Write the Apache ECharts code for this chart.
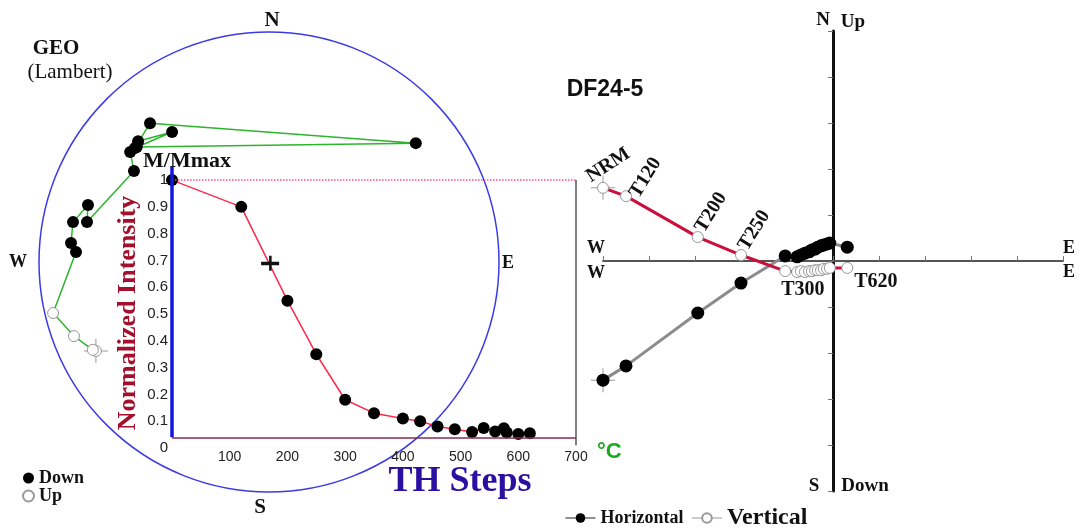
<!DOCTYPE html>
<html>
<head>
<meta charset="utf-8">
<script src="https://cdn.jsdelivr.net/npm/echarts@6/dist/echarts.min.js"></script>
<style>
  html, body { margin: 0; padding: 0; background: #fff; }
  #c { width: 1082px; height: 531px; }
</style>
</head>
<body>
<div id="c"></div>
<script>
// Thermal demagnetisation of specimen DF24-5

// Demagnetisation steps (°C) and normalised intensity M/Mmax
const steps = [0, 120, 200, 250, 300, 350, 400, 430, 460, 490, 520, 540, 560, 575, 580, 600, 620];
const intensity = [1.0, 0.90, 0.55, 0.35, 0.18, 0.13, 0.11, 0.10, 0.08, 0.07, 0.06, 0.075, 0.062, 0.074, 0.058, 0.052, 0.055];
const crossMark = [170, 0.69];
const tempTicks = [100, 200, 300, 400, 500, 600, 700];

// Orthogonal vector components per step (East, North, Up)
const compE = [-5.00, -4.50, -2.94, -2.00, -1.04, -0.78, -0.70, -0.61, -0.52, -0.46, -0.39, -0.33, -0.26, -0.20, -0.13, -0.07, 0.31];
const compN = [-2.59, -2.28, -1.13, -0.48, 0.11, 0.09, 0.13, 0.17, 0.20, 0.24, 0.26, 0.30, 0.33, 0.35, 0.37, 0.39, 0.30];
const compUp = [1.59, 1.41, 0.52, 0.13, -0.22, -0.24, -0.22, -0.24, -0.22, -0.22, -0.20, -0.20, -0.20, -0.17, -0.17, -0.15, -0.15];
const stepLabels = ['NRM', 'T120', 'T200', 'T250', 'T300', '', '', '', '', '', '', '', '', '', '', '', 'T620'];

// Directions on the equal-area net (declination, inclination), in path order
const stereoDec = [242.8, 243.5, 249.2, 256.7, 273.0, 275.5, 281.5, 287.5, 282.4, 304.0, 308.4, 312.7, 323.3, 310.4, 319.4, 51.0, 311.0];
const stereoInc = [-16.5, -15.5, -10.2, -4.0, 17.1, 14.6, 14.1, 18.6, 20.1, 29.9, 24.0, 23.6, 30.2, 24.5, 21.6, 19.0, 24.8];

const SERIF = 'Liberation Serif';
const SANS = 'Liberation Sans';

// Lambert equal-area radius (1 at the primitive circle)
const lambertR = inc => Math.SQRT2 * Math.sin((90 - Math.abs(inc)) * Math.PI / 360);
const netPts = stereoDec.map((d, i) => [lambertR(stereoInc[i]), d]);
const netDown = netPts.filter((p, i) => stereoInc[i] >= 0);
const netUp = netPts.filter((p, i) => stereoInc[i] < 0);

const crossPath = 'path://M0,11.5h24v1h-24z M11.5,0h1v24h-1z';

const labelPlace = {
  NRM:  { position: 'top', align: 'left', verticalAlign: 'bottom', rotate: 33, offset: [-13, 3] },
  T120: { position: 'right', align: 'left', verticalAlign: 'middle', rotate: 58, distance: 2 },
  T200: { position: 'top', align: 'left', verticalAlign: 'middle', rotate: 58, offset: [-3, 4] },
  T250: { position: 'top', align: 'left', verticalAlign: 'middle', rotate: 58, offset: [-3, 4] },
  T300: { position: 'bottom', align: 'left', verticalAlign: 'top', offset: [-4, -2] },
  T620: { position: 'bottom', align: 'left', verticalAlign: 'top', offset: [7, -7] }
};
const labelFont = { fontFamily: SERIF, fontWeight: 'bold', fontSize: 20, color: '#111' };

const horizData = compE.map((e, i) => [e, compN[i]]);
const vertData = compE.map((e, i) => {
  const item = { value: [e, compUp[i]] };
  const lab = stepLabels[i];
  if (lab) item.label = Object.assign({ show: true, formatter: lab }, labelFont, labelPlace[lab]);
  return item;
});

const txt = (x, y, text, font, extra) => ({
  type: 'text', x: x, y: y, z: 50,
  style: Object.assign({ text: text, font: font, fill: '#111', align: 'center', verticalAlign: 'middle' }, extra || {})
});

const option = {
  animation: false,
  backgroundColor: '#fff',
  polar: { center: [269, 262], radius: 230 },
  angleAxis: {
    type: 'value', min: 0, max: 360, startAngle: 90, clockwise: true,
    axisLine: { lineStyle: { color: '#3b3be6', width: 1.5 } },
    axisTick: { show: false }, axisLabel: { show: false }, splitLine: { show: false }
  },
  radiusAxis: {
    type: 'value', min: 0, max: 1,
    axisLine: { show: false }, axisTick: { show: false }, axisLabel: { show: false }, splitLine: { show: false }
  },
  grid: [
    { left: 172, top: 164, width: 404, height: 284 },
    { left: 603, top: 31, width: 460, height: 460 }
  ],
  xAxis: [
    {
      gridIndex: 0, type: 'value', min: 0, max: 700, interval: 100,
      axisLine: { show: false }, axisTick: { show: false }, splitLine: { show: false },
      axisLabel: {
        margin: 2, fontFamily: SANS, fontSize: 14, color: '#222',
        formatter: v => (tempTicks.indexOf(v) >= 0 ? String(v) : '')
      }
    },
    {
      gridIndex: 1, type: 'value', min: -5, max: 5, interval: 1,
      axisLine: { onZero: true, lineStyle: { color: '#555', width: 2 } },
      axisTick: { inside: true, length: 5, lineStyle: { color: '#777' } },
      axisLabel: { show: false }, splitLine: { show: false }
    }
  ],
  yAxis: [
    {
      gridIndex: 0, type: 'value', min: 0, max: 1.06, interval: 0.1,
      axisLine: { show: false }, axisTick: { show: false }, splitLine: { show: false },
      axisLabel: {
        margin: 4, fontFamily: SANS, fontSize: 15, color: '#222',
        formatter: v => {
          const r = Math.round(v * 10) / 10;
          return Math.abs(r - v) < 1e-6 ? String(r) : '';
        }
      }
    },
    {
      gridIndex: 1, type: 'value', min: -5, max: 5, interval: 1,
      axisLine: { onZero: true, lineStyle: { color: '#111', width: 3 } },
      axisTick: { length: 5, lineStyle: { color: '#777' } },
      axisLabel: { show: false }, splitLine: { show: false }
    }
  ],
  legend: [
    {
      data: ['Down', 'Up'], orient: 'vertical', left: 22, top: 469,
      itemWidth: 11, itemHeight: 11, itemGap: 0, padding: 0,
      textStyle: { fontFamily: SERIF, fontWeight: 'bold', fontSize: 18, color: '#111', lineHeight: 15 }
    },
    {
      data: [
        { name: 'Horizontal', textStyle: { fontSize: 18 }, lineStyle: { color: '#222', width: 1 } },
        { name: 'Vertical', textStyle: { fontSize: 24 }, lineStyle: { color: '#999', width: 1 } }
      ],
      orient: 'horizontal', left: 565, top: 506, padding: 0,
      itemWidth: 30, itemHeight: 12, itemGap: 8,
      textStyle: { fontFamily: SERIF, fontWeight: 'bold', color: '#111' }
    }
  ],
  series: [
    {
      name: 'intensity', type: 'line', xAxisIndex: 0, yAxisIndex: 0, z: 3,
      data: steps.map((t, i) => [t, intensity[i]]),
      symbol: 'circle', symbolSize: 12,
      itemStyle: { color: '#000' },
      lineStyle: { color: '#ff2a4a', width: 1.5 },
      markLine: {
        silent: true, symbol: 'none', label: { show: false },
        data: [
          [{ coord: [0, 1], lineStyle: { color: '#ff4d88', type: 'dotted', width: 1.5 } },
           { coord: [700, 1], lineStyle: { color: '#ff4d88', type: 'dotted', width: 1.5 } }],
          [{ coord: [0, 0.04], lineStyle: { color: '#8a2a4a', type: 'solid', width: 1.5 } },
           { coord: [700, 0.04], lineStyle: { color: '#8a2a4a', type: 'solid', width: 1.5 } }],
          [{ coord: [700, 0.01], lineStyle: { color: '#555', type: 'solid', width: 1.5 } },
           { coord: [700, 1], lineStyle: { color: '#555', type: 'solid', width: 1.5 } }],
          [{ coord: [0, 0.04], lineStyle: { color: '#1515e0', type: 'solid', width: 3.5 } },
           { coord: [0, 1.052], lineStyle: { color: '#1515e0', type: 'solid', width: 3.5 } }]
        ]
      }
    },
    {
      name: 'cross', type: 'scatter', xAxisIndex: 0, yAxisIndex: 0, z: 4,
      data: [crossMark],
      symbol: 'path://M0,6h18v3.5h-18z M8,0h2.5v15h-2.5z', symbolSize: [18, 15],
      itemStyle: { color: '#111', opacity: 1 }
    },
    {
      name: 'netPath', type: 'line', coordinateSystem: 'polar', z: 5,
      data: netPts, symbol: 'none',
      lineStyle: { color: '#2db52d', width: 1.5 }
    },
    {
      name: 'netNrmCross', type: 'scatter', coordinateSystem: 'polar', z: 5,
      data: [netPts[0]], symbol: crossPath, symbolSize: 24,
      itemStyle: { color: '#9a9a9a', opacity: 1 }
    },
    {
      name: 'Down', type: 'scatter', coordinateSystem: 'polar', z: 6,
      data: netDown, symbol: 'circle', symbolSize: 12,
      itemStyle: { color: '#000', opacity: 1 }
    },
    {
      name: 'Up', type: 'scatter', coordinateSystem: 'polar', z: 6,
      data: netUp, symbol: 'circle', symbolSize: 11,
      itemStyle: { color: '#fff', borderColor: '#999', borderWidth: 1, opacity: 1 }
    },
    {
      name: 'zijCross', type: 'scatter', xAxisIndex: 1, yAxisIndex: 1, z: 5,
      data: [horizData[0], [compE[0], compUp[0]]], symbol: crossPath, symbolSize: 24,
      itemStyle: { color: '#9a9a9a', opacity: 1 }
    },
    {
      name: 'Horizontal', type: 'line', xAxisIndex: 1, yAxisIndex: 1, z: 6,
      data: horizData, symbol: 'circle', symbolSize: 13,
      itemStyle: { color: '#000' },
      lineStyle: { color: '#8c8c8c', width: 3 }
    },
    {
      name: 'Vertical', type: 'line', xAxisIndex: 1, yAxisIndex: 1, z: 7,
      data: vertData, symbol: 'circle', symbolSize: 11,
      itemStyle: { color: '#fff', borderColor: '#999', borderWidth: 1 },
      lineStyle: { color: '#cc0e3a', width: 3 }
    }
  ],
  graphic: [
    txt(272, 21, 'N', 'bold 21px "Liberation Serif"'),
    txt(260, 508, 'S', 'bold 21px "Liberation Serif"'),
    txt(18, 262, 'W', 'bold 18px "Liberation Serif"'),
    txt(508, 263, 'E', 'bold 18px "Liberation Serif"'),
    txt(56, 49, 'GEO', 'bold 21px "Liberation Serif"'),
    txt(70, 72, '(Lambert)', '21px "Liberation Serif"'),
    txt(143, 161, 'M/Mmax', 'bold 22px "Liberation Serif"', { align: 'left' }),
    Object.assign(txt(128, 313, 'Normalized Intensity', 'bold 26px "Liberation Serif"', { fill: '#a4102c' }), { rotation: Math.PI / 2 }),
    txt(460, 482, 'TH Steps', 'bold 36px "Liberation Serif"', { fill: '#2b0fa0' }),
    txt(597, 452, '°C', 'bold 22px "Liberation Sans"', { align: 'left', fill: '#1fa81f' }),
    txt(605, 90, 'DF24-5', 'bold 23px "Liberation Sans"'),
    txt(596, 248, 'W', 'bold 18px "Liberation Serif"'),
    txt(596, 273, 'W', 'bold 18px "Liberation Serif"'),
    txt(1069, 248, 'E', 'bold 18px "Liberation Serif"'),
    txt(1069, 272, 'E', 'bold 18px "Liberation Serif"'),
    txt(823, 20, 'N', 'bold 19px "Liberation Serif"'),
    txt(853, 22, 'Up', 'bold 19px "Liberation Serif"'),
    txt(814, 486, 'S', 'bold 19px "Liberation Serif"'),
    txt(865, 486, 'Down', 'bold 19px "Liberation Serif"')
  ]
};

const chart = echarts.init(document.getElementById('c'));
chart.setOption(option);
</script>
</body>
</html>
